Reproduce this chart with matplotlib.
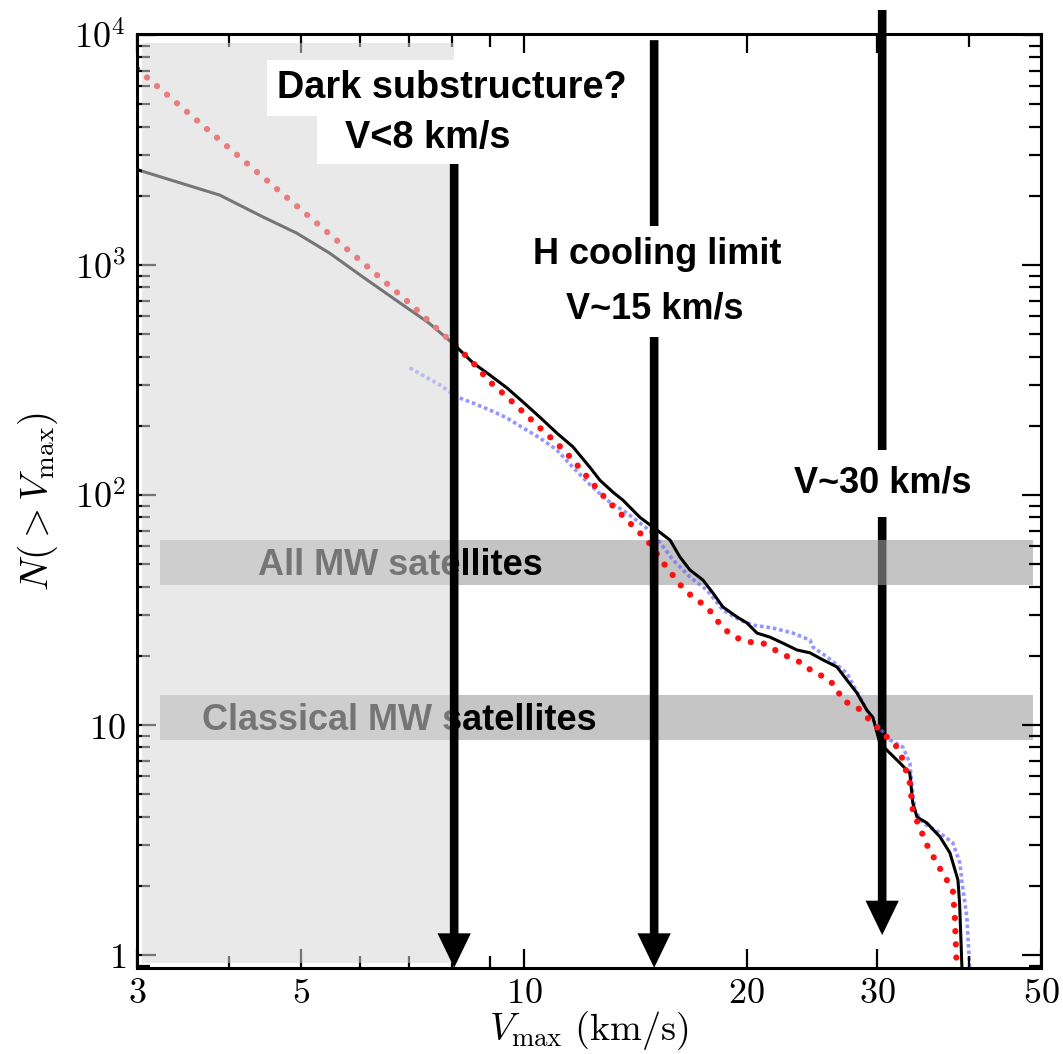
import numpy as np
import matplotlib
matplotlib.use('Agg')
import matplotlib.pyplot as plt
from matplotlib.ticker import FixedLocator, FixedFormatter, NullFormatter

plt.rcParams['mathtext.fontset'] = 'cm'

# cumulative counts
black_v = [3.0, 3.88, 4.44, 4.93, 5.46, 6.06, 6.71, 7.44, 8.06, 8.54,
           9.00, 9.49, 9.97, 10.51, 11.08, 11.65, 12.28, 12.67, 13.19, 13.61,
           14.35, 14.94, 15.76, 16.25, 16.77, 17.46, 18.01, 18.58, 19.41, 20.02,
           20.66, 21.51, 22.39, 23.39, 24.36, 25.36, 26.49, 27.32, 28.19, 29.08,
           29.63, 30.28, 31.24, 32.23, 33.24, 33.55, 33.99, 35.06, 36.52, 37.66,
           38.61, 38.81, 39.11]
black_n = [2600, 2014, 1618, 1377, 1128, 887, 705, 560, 449, 375,
           332, 292, 254, 218, 186, 162, 132, 116, 103, 95,
           80, 72.6, 63.7, 53.8, 47.2, 42.7, 37.5, 32.6, 29.5, 27.8,
           25.1, 24.1, 22.7, 21.2, 20.6, 19.2, 17.9, 15.7, 13.8, 11.6,
           10.8, 8.35, 7.55, 6.84, 6.18, 4.58, 3.98, 3.75, 3.26, 2.78,
           2.12, 1.68, 0.85]

red_v = [3.0, 4.0, 5.0, 6.0, 7.0, 8.0, 8.20, 8.54, 9.00, 9.49,
         9.97, 10.51, 11.08, 11.65, 12.28, 12.95, 13.78, 14.67, 15.51, 16.40,
         16.92, 17.68, 18.58, 19.29, 20.08, 21.04, 21.85, 22.75, 23.76, 24.59,
         25.68, 26.49, 26.91, 28.19, 29.35, 30.75, 32.05, 32.53, 33.24, 33.55,
         34.07, 35.16, 36.72, 38.00, 38.24, 38.48]
red_n = [7130, 3214, 1739, 1051, 684, 460, 427, 375, 310, 267,
         230, 196, 168, 142, 116, 95.1, 77.9, 63.7, 49.6, 39.4,
         36.0, 32.6, 26.4, 24.1, 23.0, 22.7, 21.2, 19.8, 18.6, 17.0,
         16.0, 14.5, 12.8, 12.0, 10.5, 9.05, 7.94, 7.04, 5.59, 4.27,
         3.75, 2.95, 2.30, 1.92, 1.46, 0.85]

blue_v = [7.01, 7.70, 8.12, 8.54, 9.00, 9.49, 9.97, 10.51, 11.08, 11.65,
          12.28, 12.95, 13.78, 14.94, 15.91, 16.77, 17.68, 18.58, 19.59, 20.40,
          21.71, 23.10, 24.36, 24.59, 25.68, 27.32, 28.45, 29.63, 31.24, 32.53,
          33.24, 33.44, 33.76, 34.61, 36.52, 38.00, 38.85, 39.11, 39.70, 40.07]
blue_n = [357, 301, 267, 251, 234, 216, 196, 177, 157, 132,
          111, 95.1, 83.5, 68.4, 52.2, 44.0, 38.6, 31.6, 28.6, 27.2,
          26.4, 25.1, 23.4, 21.8, 19.8, 16.8, 13.2, 10.5, 8.61, 8.02,
          6.84, 5.59, 4.27, 3.75, 3.39, 3.07, 2.51, 2.06, 1.46, 0.85]

# satellite bands (range in N) and their labels
band_x = (3.22, 48.7)
allmw_band = (40.6, 63.7)
classical_band = (8.6, 13.5)
band_labels = ['All MW satellites', 'Classical MW satellites']

# arrows: velocity, start and tip in N
arrow_v = [8.05, 15.0, 30.5]
arrow_top = [3000, 9500, 1.285e4]
arrow_tip = [0.88, 0.88, 1.22]

dark_v = 8.05
xticks_major = [3, 5, 10, 20, 30, 50]
xtick_labels = ['$3$', '$5$', '$10$', '$20$', '$30$', '$50$']
xticks_minor = [4, 6, 7, 8, 9, 40]
yticks_major = [1, 10, 100, 1000, 10000]
ytick_labels = ['$1$', '$10$', '$10^2$', '$10^3$', '$10^4$']

bfam = ['Liberation Sans', 'DejaVu Sans']
bold = dict(family=bfam, weight='bold', fontsize=26)

fig = plt.figure(figsize=(10.63, 10.54), dpi=100)
ax = fig.add_axes([0.1289, 0.0816, 0.8504, 0.8861])
ax.set_xscale('log')
ax.set_yscale('log')
ax.set_xlim(3, 50)
ax.set_ylim(0.878, 1.01e4)

# gray bands
ax.fill_between(band_x, *classical_band, color='#c5c5c5', lw=0, zorder=1.0)
ax.fill_between(band_x, *allmw_band, color='#9e9e9e', alpha=0.6, lw=0, zorder=1.3)

# curves
ax.plot(blue_v, blue_n, color='#6a6aff', lw=2.6, ls=(0, (1, 0.8)), alpha=0.7, zorder=1.5)
ax.plot(black_v, black_n, color='black', lw=2.2, zorder=1.6)
ax.plot(red_v, red_n, color='#ff1010', lw=4.5, ls=(0, (0.01, 2.1)),
        dash_capstyle='round', zorder=1.7)

# band labels
ax.text(0.291, 0.4208, band_labels[0], transform=ax.transAxes, ha='center',
        va='baseline', zorder=2.2, **bold)
ax.text(0.290, 0.2548, band_labels[1], transform=ax.transAxes, ha='center',
        va='baseline', zorder=2.2, **bold)

# "dark substructure" region: translucent veil over everything below 8 km/s
ax.axvspan(3.05, dark_v, ymin=0.005, ymax=0.99, color='#d7d7d9', alpha=0.55,
           lw=0, zorder=2.3)

# arrows
style = 'simple,head_length=0.62,head_width=0.6,tail_width=0.155'
for v, top, tip in zip(arrow_v, arrow_top, arrow_tip):
    z = 1.2 if v > 20 else 3
    ax.annotate('', xy=(v, tip), xytext=(v, top), annotation_clip=False,
                arrowprops=dict(arrowstyle=style, mutation_scale=40, fc='black',
                                ec='none', lw=0, shrinkA=0, shrinkB=0),
                zorder=z)

def wbox(pad):
    return dict(facecolor='white', edgecolor='none', boxstyle='square,pad=%g' % pad)

ax.text(0.348, 0.9315, 'Dark substructure?', transform=ax.transAxes, ha='center',
        va='baseline', bbox=wbox(0.27), zorder=4, family=bfam, weight='bold',
        fontsize=27.3)
ax.text(0.322, 0.8779, '  V<8 km/s  ', transform=ax.transAxes, ha='center',
        va='baseline', bbox=wbox(0.2), zorder=4, family=bfam, weight='bold',
        fontsize=27.3)
ax.text(0.575, 0.7537, 'H cooling limit', transform=ax.transAxes, ha='center',
        va='baseline', bbox=wbox(0.3), zorder=4, **bold)
ax.text(0.573, 0.6959, 'V~15 km/s', transform=ax.transAxes, ha='center',
        va='baseline', bbox=wbox(0.3), zorder=4, **bold)
ax.text(0.825, 0.5086, 'V~30 km/s', transform=ax.transAxes, ha='center',
        va='baseline', bbox=wbox(0.45), zorder=4, **bold)

# ticks
ax.xaxis.set_major_locator(FixedLocator(xticks_major))
ax.xaxis.set_major_formatter(FixedFormatter(xtick_labels))
ax.xaxis.set_minor_locator(FixedLocator(xticks_minor))
ax.xaxis.set_minor_formatter(NullFormatter())
ax.yaxis.set_major_locator(FixedLocator(yticks_major))
ax.yaxis.set_major_formatter(FixedFormatter(ytick_labels))
ax.yaxis.set_minor_locator(matplotlib.ticker.LogLocator(base=10, subs=np.arange(2, 10), numticks=20))
ax.yaxis.set_minor_formatter(NullFormatter())
ax.tick_params(which='both', direction='in', top=True, right=True, width=1.6,
               labelsize=26, color='black')
ax.tick_params(which='major', length=14)
ax.tick_params(which='minor', length=9)
ax.tick_params(axis='x', which='major', pad=6)
ax.tick_params(axis='y', which='major', pad=8)
for sp in ax.spines.values():
    sp.set_linewidth(2.2)

ax.set_xlabel(r'$V_{\rm max}\ ({\rm km/s})$', fontsize=27.5)
ax.set_ylabel(r'$N(>V_{\rm max})$', fontsize=28)
ax.xaxis.set_label_coords(0.5, -0.044)
ax.yaxis.set_label_coords(-0.085, 0.5)

fig.savefig('out.png', dpi=100)
